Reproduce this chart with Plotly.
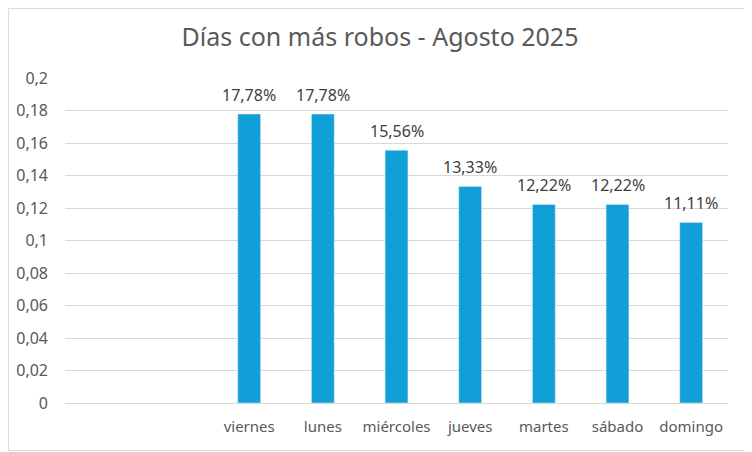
import plotly.graph_objects as go

# two empty slots at the start, like the original sheet
dias = [" ", "  ", "viernes", "lunes", "miércoles", "jueves", "martes", "sábado", "domingo"]
porcentaje = [None, None, 0.1778, 0.1778, 0.1556, 0.1333, 0.1222, 0.1222, 0.1111]

fig = go.Figure()
fig.add_trace(go.Bar(
    x=dias,
    y=porcentaje,
    marker_color="#109fd7",
    hovertemplate="%{x}: %{y:.2%}<extra></extra>",
))

# data labels, a bit higher above the bars than plotly's own outside text
for d, v in zip(dias, porcentaje):
    if v is None:
        continue
    fig.add_annotation(x=d, y=v, text=f"{v * 100:.2f}%".replace(".", ","),
                       showarrow=False, yanchor="middle", yshift=19,
                       font=dict(size=16, color="#404040"))

# page body has an 8px margin, so the figure is 8px smaller each way
fig.update_layout(
    width=744,
    height=444,
    autosize=False,
    separators=",.",
    font=dict(family="Noto Sans", color="#595959", size=15),
    title=dict(text="Días con más robos - Agosto 2025", x=0.5, xanchor="center",
               y=0.935, yanchor="middle", font=dict(size=25, color="#595959")),
    margin=dict(l=57, r=24, t=70, b=49),
    plot_bgcolor="white",
    paper_bgcolor="white",
    bargap=0.69,
    showlegend=False,
)
fig.update_yaxes(range=[0, 0.2], dtick=0.02, showgrid=True, gridcolor="#d9d9d9",
                 gridwidth=1, zeroline=False, ticklabelstandoff=16, automargin=False,
                 tickfont=dict(size=16, color="#595959"))
fig.update_xaxes(showline=True, linecolor="#d9d9d9", linewidth=1, automargin=False,
                 ticklabelstandoff=10, tickfont=dict(size=15, color="#595959"))

# chart border
fig.add_shape(type="rect", xref="paper", yref="paper",
              x0=-0.0853, x1=1.0337, y0=-0.146, y1=1.214,
              line=dict(color="#d9d9d9", width=1))

fig.write_html("out.html")
